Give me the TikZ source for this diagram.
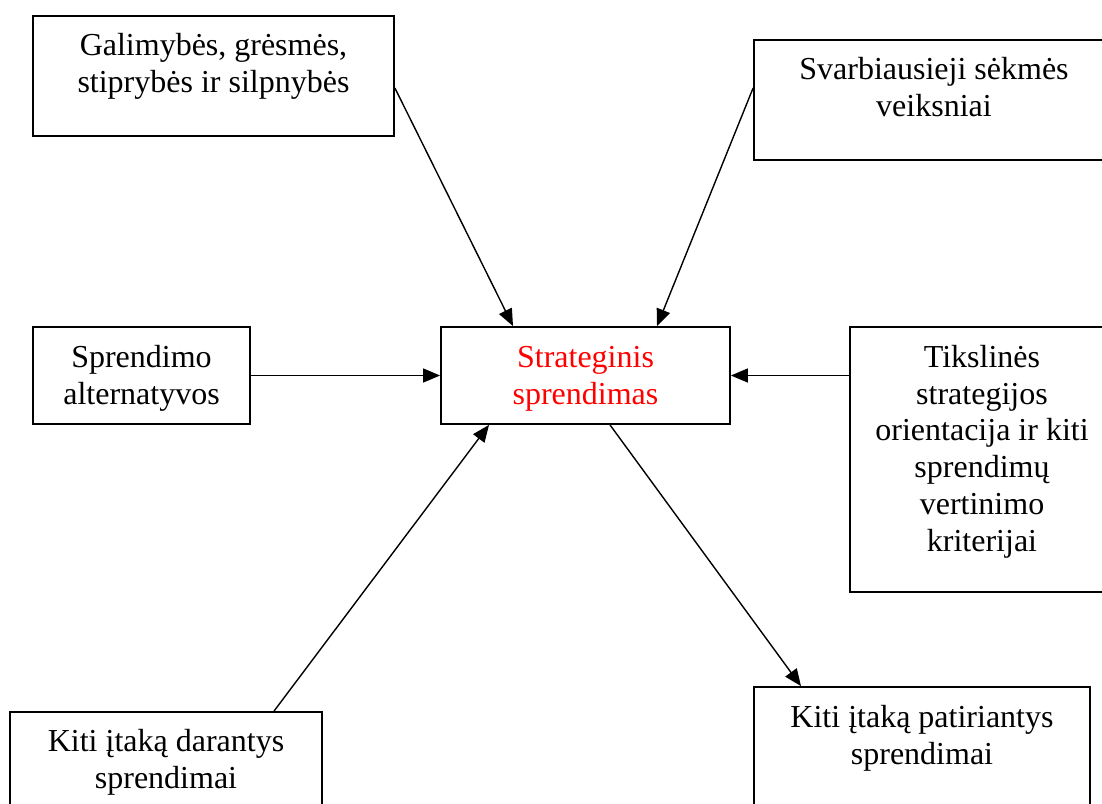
\documentclass[tikz,border=0pt]{standalone}
\usepackage{fontspec}
\setmainfont{Liberation Serif}
\usetikzlibrary{arrows.meta}
\begin{document}
\begin{tikzpicture}[x=1pt,y=-1pt,
  box/.style={draw, line width=1.8pt, rectangle, inner sep=0pt},
  txt/.style={align=center, inner sep=0pt, anchor=north, font=\fontsize{32}{36.8}\selectfont},
  arr/.style={line width=1.4pt, -{Triangle[length=17pt,width=14pt]}}]
\useasboundingbox (0,0) rectangle (1102,803);
\clip (0,0) rectangle (1102,803);
\fill[white] (0,0) rectangle (1102,803);
% boxes
\node[box, minimum width=361pt, minimum height=120pt] (b1) at (213.5,76) {};
\node[box, minimum width=360pt, minimum height=120pt] (b2) at (934,100) {};
\node[box, minimum width=217pt, minimum height=97pt] (b3) at (141.5,375.5) {};
\node[box, minimum width=289pt, minimum height=97pt] (b4) at (585.5,375.5) {};
\node[box, minimum width=264pt, minimum height=265pt] (b5) at (982,459.5) {};
\node[box, minimum width=312pt, minimum height=120pt] (b6) at (166,772) {};
\node[box, minimum width=336pt, minimum height=124pt] (b7) at (922,749) {};
% texts
\node[txt] (t1) at ([yshift=-14.2pt]b1.north) {\strut Galimybės, grėsmės,\\stiprybės ir silpnybės};
\node[txt] (t2) at ([yshift=-14.2pt]b2.north) {\strut Svarbiausieji sėkmės\\veiksniai};
\node[txt] (t3) at ([yshift=-15.2pt]b3.north) {\strut Sprendimo\\alternatyvos};
\node[txt, text=red] (t4) at ([yshift=-15.2pt]b4.north) {\strut Strateginis\\sprendimas};
\node[txt] (t5) at ([yshift=-15.2pt]b5.north) {\strut Tikslinės\\strategijos\\orientacija ir kiti\\sprendimų\\vertinimo\\kriterijai};
\node[txt] (t6) at ([yshift=-14.2pt]b6.north) {\strut Kiti įtaką darantys\\sprendimai};
\node[txt] (t7) at ([yshift=-15.2pt]b7.north) {\strut Kiti įtaką patiriantys\\sprendimai};
% connectors
\draw[arr] ([yshift=-12pt]b1.east) -- ([xshift=-72.5pt]b4.north);
\draw[arr] ([yshift=12pt]b2.west) -- ([xshift=71.5pt]b4.north);
\draw[arr] (b3.east) -- (b4.west);
\draw[arr] (b5.west |- b4.east) -- (b4.east);
\draw[arr] ([xshift=108pt]b6.north) -- ([xshift=-96.5pt]b4.south);
\draw[arr] ([xshift=24.5pt]b4.south) -- ([xshift=-121pt]b7.north);
\end{tikzpicture}
\end{document}
